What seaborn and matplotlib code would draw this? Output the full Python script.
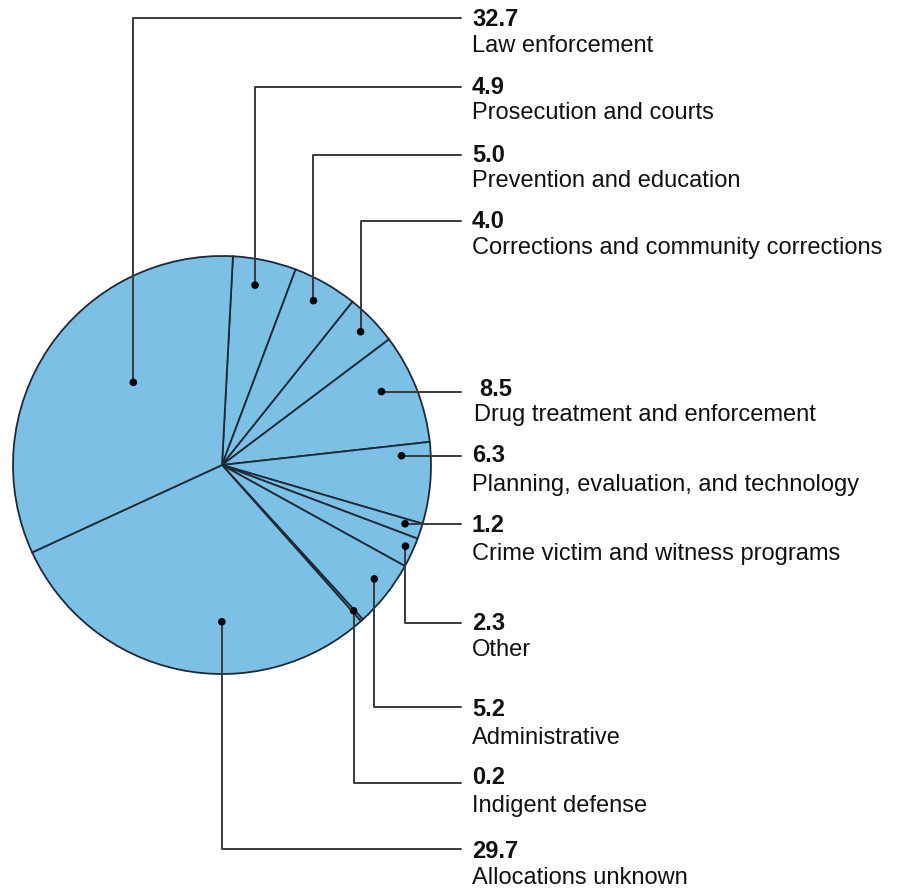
import matplotlib
matplotlib.use("Agg")
import matplotlib.pyplot as plt
import numpy as np
import seaborn as sns

# slices, clockwise from the top
categories = ["Prosecution and courts", "Prevention and education",
              "Corrections and community corrections",
              "Drug treatment and enforcement",
              "Planning, evaluation, and technology",
              "Crime victim and witness programs", "Other", "Administrative",
              "Indigent defense", "Allocations unknown", "Law enforcement"]
values = [4.9, 5.0, 4.0, 8.5, 6.3, 1.2, 2.3, 5.2, 0.2, 29.7, 32.7]
value_labels = ["4.9", "5.0", "4.0", "8.5", "6.3", "1.2", "2.3", "5.2", "0.2",
                "29.7", "32.7"]

# layout of the callouts (pixel units, y measured from the top)
dot_frac = [0.42, 0.47, 0.52, 0.40, 0.15, 0.34, 0.39, 0.42, 0.40, 0.39, 0.575]
dot_rad = [0.875, 0.90, 0.92, 0.84, 0.86, 0.92, 0.96, 0.91, 0.94, 0.75, 0.58]
row_y = [87, 155, 221, None, None, None, 623, 707, 783, 849, 18]
value_shift = [0, 0, 0, 3, 1, -1, 0, -2, 6, -2, 0]
name_gap = [25, 25, 26, 25, 29, 28, 26, 28, 28, 26, 27]

W, H = 904, 890
cx, cy, R = 222, H - 465, 209
start = 87
line_end = 461
text_x = 472

sns.set_theme(style="white")
plt.rcParams['font.family'] = ['Liberation Sans', 'DejaVu Sans']

fig = plt.figure(figsize=(W / 100, H / 100), dpi=100)
ax = fig.add_axes([0, 0, 1, 1])

ax.pie(values, startangle=start, counterclock=False, center=(cx, cy),
       radius=R, colors=['#7dc0e5'] * len(values),
       wedgeprops=dict(edgecolor='#1c2b3a', linewidth=1.3))
ax.set_xlim(0, W)
ax.set_ylim(0, H)
ax.set_aspect('auto')
ax.axis('off')

cum = np.concatenate([[0], np.cumsum(values)[:-1]])
dots_x, dots_y = [], []
for i, v in enumerate(values):
    a0 = start - 360 * cum[i] / 100
    a1 = a0 - 360 * v / 100
    ang = np.deg2rad(a0 + dot_frac[i] * (a1 - a0))
    px = cx + dot_rad[i] * R * np.cos(ang)
    py = cy + dot_rad[i] * R * np.sin(ang)
    dots_x.append(px)
    dots_y.append(py)
    if row_y[i] is None:
        ly = py
        ax.plot([px, line_end], [ly, ly], color='#3a3a3a', lw=1.4, zorder=3)
    else:
        ly = H - row_y[i]
        ax.plot([px, px, line_end], [py, ly, ly], color='#3a3a3a', lw=1.4,
                zorder=3)
    vx = text_x + (7 if i == 3 else 0)
    nx = text_x + (2 if i == 3 else 0)
    vy = ly - 1 + value_shift[i]
    ax.text(vx, vy, value_labels[i], fontsize=17, fontweight='bold',
            va='center', ha='left', color='#111111')
    ax.text(nx, vy - name_gap[i], categories[i], fontsize=17,
            va='center', ha='left', color='#111111')

sns.scatterplot(x=dots_x, y=dots_y, ax=ax, color='black', s=30,
                edgecolor='none', zorder=4)

fig.savefig('out.png', dpi=100)
